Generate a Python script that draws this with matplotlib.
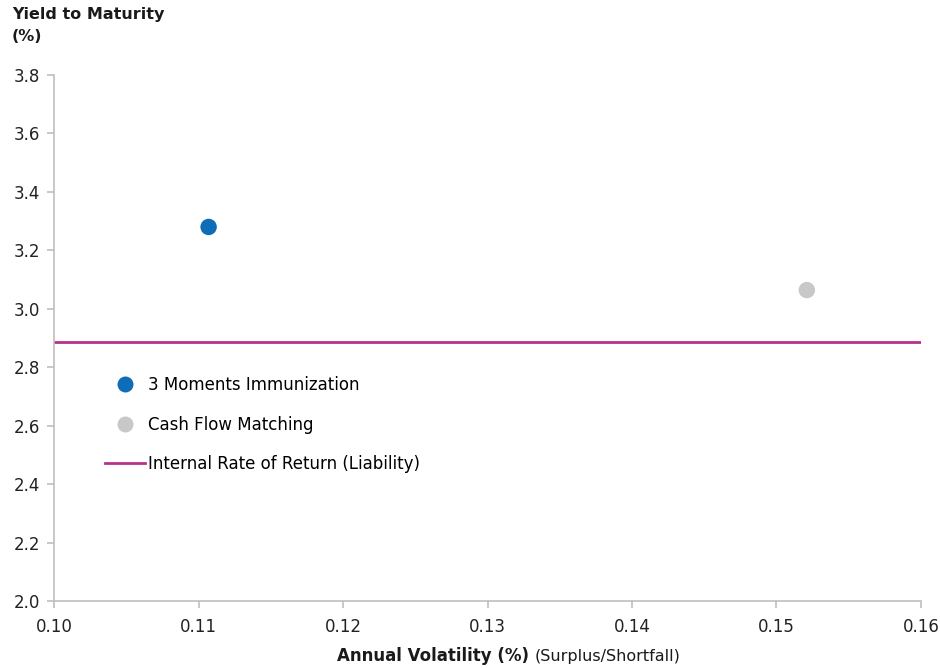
import matplotlib.pyplot as plt
from matplotlib.lines import Line2D

# Data
series_names = ["3 Moments Immunization", "Cash Flow Matching"]
volatility = [0.1107, 0.1521]
ytm = [3.28, 3.064]
point_colors = ["#0f6cb6", "#c8c8c8"]
irr_label = "Internal Rate of Return (Liability)"
irr_value = 2.886

x_ticks = [0.10, 0.11, 0.12, 0.13, 0.14, 0.15, 0.16]
y_ticks = [2.0, 2.2, 2.4, 2.6, 2.8, 3.0, 3.2, 3.4, 3.6, 3.8]

plt.rcParams['font.family'] = ['DejaVu Sans']

fig = plt.figure(figsize=(9.4, 6.68), dpi=100)
ax = fig.add_axes([54 / 940, 1 - 601 / 668, (921 - 54) / 940, (601 - 75) / 668])

for name, x, y, c in zip(series_names, volatility, ytm, point_colors):
    ax.scatter([x], [y], s=140, color=c, zorder=3, label=name, edgecolors='none')

ax.axhline(irr_value, color="#b5338a", linewidth=2, zorder=2, label=irr_label)

ax.set_xlim(x_ticks[0], x_ticks[-1])
ax.set_ylim(y_ticks[0], y_ticks[-1])
ax.set_xticks(x_ticks)
ax.set_xticklabels([f"{v:.2f}" for v in x_ticks])
ax.set_yticks(y_ticks)
ax.set_yticklabels([f"{v:.1f}" for v in y_ticks])

for side in ['top', 'right']:
    ax.spines[side].set_visible(False)
for side in ['left', 'bottom']:
    ax.spines[side].set_color('#bfbfbf')
    ax.spines[side].set_linewidth(1.2)
ax.tick_params(axis='both', colors='#bfbfbf', labelcolor='#222222',
               labelsize=12, length=5, width=1.2, direction='out')
ax.tick_params(axis='y', pad=5)
ax.tick_params(axis='x', pad=7)

# Axis titles
fig.text(12 / 940, 1 - 7 / 668, "Yield to Maturity\n(%)", fontsize=11.5,
         fontweight='bold', va='top', ha='left', linespacing=1.55, color='#1a1a1a')
fig.text(529 / 940, 1 - 656 / 668, "Annual Volatility (%)", fontsize=12,
         fontweight='bold', ha='right', va='center', color='#1a1a1a')
fig.text(535 / 940, 1 - 656 / 668, "(Surplus/Shortfall)", fontsize=11.5,
         ha='left', va='center', color='#1a1a1a')

handles = [
    Line2D([], [], marker='o', linestyle='none', markersize=11.5,
           markerfacecolor=point_colors[0], markeredgecolor='none'),
    Line2D([], [], marker='o', linestyle='none', markersize=11.5,
           markerfacecolor=point_colors[1], markeredgecolor='none'),
    Line2D([], [], color="#b5338a", linewidth=2),
]
leg = ax.legend(handles, series_names + [irr_label], loc='upper left',
                bbox_to_anchor=(36 / 867, 1 - 286 / 526), frameon=False,
                fontsize=12, labelspacing=1.3, handlelength=2.4, handletextpad=0.2)

fig.savefig("out.png", dpi=100)
